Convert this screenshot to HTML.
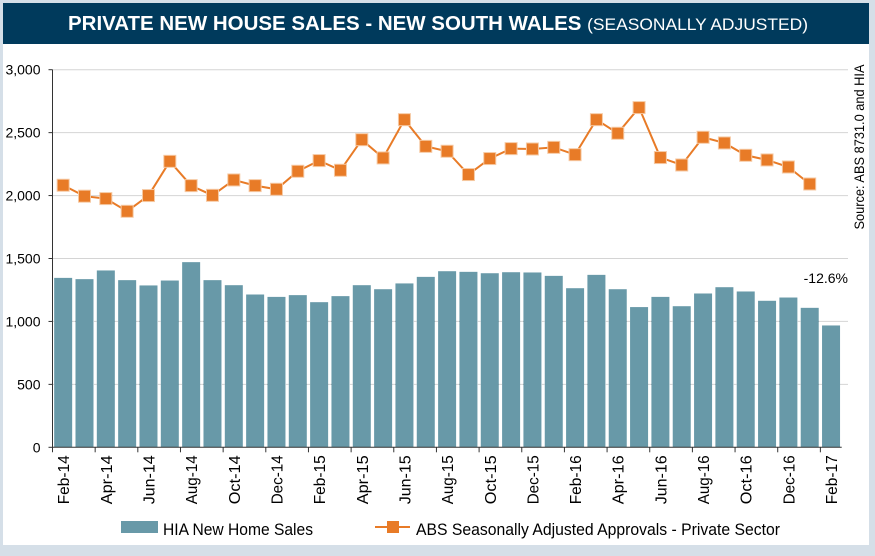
<!DOCTYPE html>
<html><head><meta charset="utf-8"><style>
html,body{margin:0;padding:0;background:#d5dfe8;}
body{width:875px;height:551px;overflow:hidden;font-family:"Liberation Sans",Arial,sans-serif;}
</style></head><body>
<svg width="875" height="551" xmlns="http://www.w3.org/2000/svg">
<rect x="3" y="3" width="866" height="542" fill="#fff"/>
<rect x="3" y="3" width="866" height="41" fill="#003a5c"/>
<text x="438" y="30" text-anchor="middle" fill="#fff" font-size="20" font-weight="bold" textLength="740" lengthAdjust="spacingAndGlyphs">PRIVATE NEW HOUSE SALES -  NEW SOUTH WALES <tspan font-weight="normal" font-size="17">(SEASONALLY ADJUSTED)</tspan></text>
<g id="grid"></g><g id="bars"></g><g id="line"></g><g id="axes"></g>
<text x="848" y="283" text-anchor="end" font-size="14" fill="#000">-12.6%</text>
<text transform="translate(864,147) rotate(-90)" text-anchor="middle" font-size="14" textLength="165" lengthAdjust="spacingAndGlyphs" fill="#000">Source: ABS 8731.0 and HIA</text>
<rect x="121" y="521" width="37" height="12" fill="#6899a8"/>
<text x="163" y="535" font-size="17" textLength="150" lengthAdjust="spacingAndGlyphs" fill="#000">HIA New Home Sales</text>
<line x1="375" y1="527" x2="410" y2="527" stroke="#e87b27" stroke-width="2"/>
<rect x="387" y="521" width="12" height="12" fill="#e87b27"/>
<text x="416" y="535" font-size="17" textLength="364" lengthAdjust="spacingAndGlyphs" fill="#000">ABS Seasonally Adjusted Approvals - Private Sector</text>
</svg>
<script>
const categories=["Feb-14","Mar-14","Apr-14","May-14","Jun-14","Jul-14","Aug-14","Sep-14","Oct-14","Nov-14","Dec-14","Jan-15","Feb-15","Mar-15","Apr-15","May-15","Jun-15","Jul-15","Aug-15","Sep-15","Oct-15","Nov-15","Dec-15","Jan-16","Feb-16","Mar-16","Apr-16","May-16","Jun-16","Jul-16","Aug-16","Sep-16","Oct-16","Nov-16","Dec-16","Jan-17","Feb-17"];
const hiaSales=[1346,1336,1405,1328,1286,1325,1471,1328,1288,1214,1195,1209,1153,1201,1288,1256,1302,1354,1399,1394,1383,1391,1389,1362,1264,1370,1256,1114,1195,1121,1222,1272,1238,1164,1190,1108,968];
const absApprovals=[2082,1995,1976,1875,2000,2272,2079,2002,2124,2079,2050,2193,2278,2201,2444,2299,2603,2391,2352,2167,2294,2373,2370,2383,2325,2603,2495,2699,2302,2243,2463,2418,2320,2283,2227,2092];
const yTicks=[0,500,1000,1500,2000,2500,3000];
const NS="http://www.w3.org/2000/svg";
const L=52.5,Y0=447.3,YT=69.7,BW=21.33;
const x=i=>L+BW*(i+0.5);
const y=v=>Y0-(v/3000)*(Y0-YT);
function mk(t,a,p){const e=document.createElementNS(NS,t);for(const k in a)e.setAttribute(k,a[k]);document.getElementById(p).appendChild(e);return e;}
yTicks.forEach(v=>{
 if(v>0){const g=mk('line',{x1:L,x2:848,y1:y(v),y2:y(v),stroke:'#aaa','stroke-dasharray':'1,1'},'grid');
 
 }
 const tk=mk('line',{x1:L-4,x2:L,y1:y(v),y2:y(v),stroke:'#333'},'axes');
 
 
 const t=mk('text',{x:L-12,y:y(v)+5,'text-anchor':'end','font-size':'14',fill:'#000'},'axes');
 t.textContent=v.toLocaleString('en-US');
 
 
});
hiaSales.forEach((v,i)=>{
 const r=mk('rect',{x:x(i)-9,y:y(v),width:18,height:Y0-y(v),fill:'#6899a8'},'bars');
 
 
});
const pl=mk('polyline',{points:absApprovals.map((v,i)=>x(i)+','+y(v)).join(' '),fill:'none',stroke:'#e87b27','stroke-width':2},'line');


absApprovals.forEach((v,i)=>{
 const m=mk('rect',{x:x(i)-6,y:y(v)-6,width:12,height:12,fill:'#e87b27',stroke:'#f6c9a3','stroke-width':1},'line');
 
 
});
const ax=mk('line',{x1:L,x2:L,y1:YT,y2:Y0,stroke:'#333'},'axes');


const bx=mk('line',{x1:L,x2:L+BW*37,y1:Y0,y2:Y0,stroke:'#333'},'axes');


categories.forEach((c,i)=>{
 if(i%2===0){
  const tk=mk('line',{x1:L+BW*i,x2:L+BW*i,y1:Y0,y2:Y0+5,stroke:'#333'},'axes');
  
  
  const t=mk('text',{transform:`translate(${x(i)+6},${Y0+8}) rotate(-90)`,'text-anchor':'end','font-size':'16',textLength:c.length>5?'49':'45',lengthAdjust:'spacingAndGlyphs',fill:'#000'},'axes');
  t.textContent=c;
  
  
 }
});
</script>
</body></html>
